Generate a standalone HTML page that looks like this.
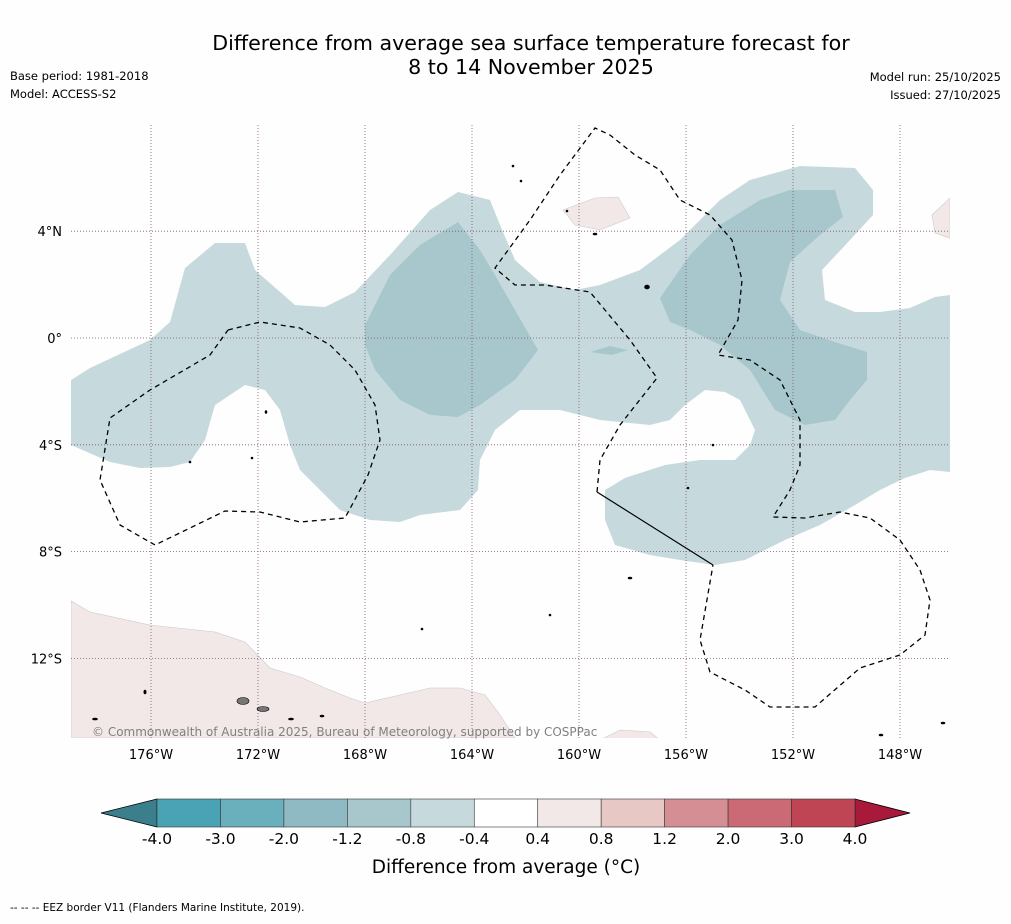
<!DOCTYPE html>
<html><head><meta charset="utf-8">
<style>
html,body{margin:0;padding:0;background:#fefefe;}
body{width:1011px;height:919px;overflow:hidden;font-family:"Liberation Sans","DejaVu Sans",sans-serif;}
svg text{font-family:"DejaVu Sans","Liberation Sans",sans-serif;}
</style></head>
<body>
<svg id="chart" width="1011" height="919" xmlns="http://www.w3.org/2000/svg">
<rect width="1011" height="919" fill="#fefefe"/>
<text x="531" y="50" font-size="20.6" text-anchor="middle" fill="#000">Difference from average sea surface temperature forecast for</text>
<text x="531" y="74" font-size="20.6" text-anchor="middle" fill="#000">8 to 14 November 2025</text>
<text x="10" y="80" font-size="11.5">Base period: 1981-2018</text>
<text x="10" y="98" font-size="11.5">Model: ACCESS-S2</text>
<text x="1001" y="81" font-size="11.5" text-anchor="end">Model run: 25/10/2025</text>
<text x="1001" y="99" font-size="11.5" text-anchor="end">Issued: 27/10/2025</text>
<defs><clipPath id="mapclip"><rect x="71" y="125" width="879" height="613"/></clipPath></defs>
<g id="map" clip-path="url(#mapclip)"></g>
<g id="axes"></g>
<g id="cbar"></g>
<text x="92" y="736" font-size="12" fill="#808080">© Commonwealth of Australia 2025, Bureau of Meteorology, supported by COSPPac</text>
<text x="10" y="911" font-size="10.5">--  --  -- EEZ border V11 (Flanders Marine Institute, 2019).</text>
</svg>
<script>
// axis ticks
const lonTicks = [-176,-172,-168,-164,-160,-156,-152,-148];
const lonLabels = ["176°W","172°W","168°W","164°W","160°W","156°W","152°W","148°W"];
const latTicks = [4,0,-4,-8,-12];
const latLabels = ["4°N","0°","4°S","8°S","12°S"];
// colour bar
const cbarLevels = [-4.0,-3.0,-2.0,-1.2,-0.8,-0.4,0.4,0.8,1.2,2.0,3.0,4.0];
const cbarLabels = ["-4.0","-3.0","-2.0","-1.2","-0.8","-0.4","0.4","0.8","1.2","2.0","3.0","4.0"];
const cbarColors = ["#4aa3b4","#6aafbc","#8fbac3","#a8c7cc","#c6dadd","#ffffff","#f3e8e8","#e8c8c4","#d68e95","#cb6a74","#bf4555"];
const cbarExtendLow = "#3a7f8b", cbarExtendHigh = "#a8193a";
// anomaly regions (pixel-traced outlines)
const regionLightBlue = [[71,380],[90,368],[150,340],[170,322],[185,268],[215,243],[245,243],[255,270],[295,305],[325,307],[355,292],[390,255],[430,210],[458,192],[490,200],[500,225],[515,260],[540,282],[575,290],[600,285],[640,270],[680,240],[720,200],[750,180],[800,166],[855,168],[873,190],[873,215],[850,240],[822,270],[825,300],[855,312],[880,312],[910,308],[935,297],[950,295],[950,472],[930,470],[905,478],[880,490],[855,505],[820,525],[785,540],[745,560],[715,565],[680,560],[650,555],[615,545],[605,520],[605,490],[625,478],[665,465],[700,460],[735,460],[750,445],[755,430],[740,400],[725,392],[705,390],[685,405],[670,420],[650,425],[600,420],[560,410],[520,410],[495,430],[480,460],[478,490],[460,510],[420,515],[400,522],[370,520],[340,510],[320,490],[300,470],[290,445],[280,410],[265,390],[245,385],[215,405],[205,440],[190,462],[170,467],[140,468],[110,462],[71,445]];
const regionMidBlue1 = [[365,325],[390,275],[420,245],[458,222],[480,250],[495,275],[515,310],[538,350],[515,380],[480,405],[458,417],[430,415],[400,400],[375,370],[365,345]];
const regionMidBlue2 = [[660,298],[690,255],[720,225],[760,200],[790,190],[835,190],[843,217],[820,235],[790,262],[780,300],[800,330],[835,342],[867,352],[867,380],[850,400],[835,420],[805,425],[775,410],[750,370],[720,345],[690,330],[670,322]];
const regionMidBlue3 = [[590,352],[610,346],[628,350],[612,355]];
const regionPink1 = [[71,601],[90,612],[150,625],[215,632],[245,642],[270,668],[300,677],[325,688],[350,698],[365,703],[400,695],[430,688],[460,688],[485,695],[500,715],[515,738],[71,738]];
const regionPink2 = [[563,210],[595,198],[618,197],[630,218],[600,230],[575,225]];
const regionPink3 = [[932,215],[950,198],[950,238],[935,233]];
const regionPink4 = [[600,740],[620,730],[650,732],[660,740]];
const eezLeft = [[228,330],[260,322],[300,328],[330,345],[355,370],[375,405],[380,440],[368,475],[345,518],[300,522],[260,512],[225,511],[155,545],[120,525],[100,480],[110,418],[150,390],[210,355],[228,330]];
const eezRight = [[597,492],[600,460],[620,425],[657,378],[630,340],[590,292],[545,285],[515,285],[495,268],[530,220],[560,175],[595,128],[610,135],[635,155],[660,170],[680,200],[710,215],[732,240],[742,280],[738,320],[718,355],[750,360],[780,380],[800,420],[800,465],[790,490],[773,517],[805,518],[840,512],[870,518],[900,540],[920,570],[930,600],[925,635],[900,655],[860,668],[815,707],[770,707],[745,690],[710,672],[700,640],[713,565]];
const eezSolid = [[597,492],[713,565]];

const NS="http://www.w3.org/2000/svg";
const X0=151, DX=26.75, Y0=338, DY=26.7;
function xLon(lon){return X0+(lon+176)*DX;}
function yLat(lat){return Y0-lat*DY;}
function el(tag,attrs,parent){const e=document.createElementNS(NS,tag);for(const k in attrs)e.setAttribute(k,attrs[k]);parent.appendChild(e);return e;}
function pts(a){return a.map(p=>p[0]+","+p[1]).join(" ");}
const map=document.getElementById('map'), axes=document.getElementById('axes'), cb=document.getElementById('cbar');

function poly(arr,fill,name,stroke){
  const p=el('polygon',{points:pts(arr),fill:fill,stroke:stroke||'none','stroke-width':0.6},map);
  
  
}
poly(regionLightBlue,cbarColors[4],'anomaly-region-light-blue');
poly(regionMidBlue1,cbarColors[3],'anomaly-region-mid-blue-west');
poly(regionMidBlue2,cbarColors[3],'anomaly-region-mid-blue-east');
poly(regionMidBlue3,cbarColors[3],'anomaly-region-mid-blue-small');
poly(regionPink1,cbarColors[6],'anomaly-region-pink-south','#c9c9c9');
poly(regionPink2,cbarColors[6],'anomaly-region-pink-north','#c9c9c9');
poly(regionPink3,cbarColors[6],'anomaly-region-pink-east','#c9c9c9');
poly(regionPink4,cbarColors[6],'anomaly-region-pink-bottom','#c9c9c9');

// gridlines
lonTicks.forEach((lon,i)=>{
  const l=el('line',{x1:xLon(lon),x2:xLon(lon),y1:125,y2:738,stroke:'#7a5570','stroke-width':0.8,'stroke-dasharray':'1,2'},map);
  
  
  const t=el('text',{x:xLon(lon),y:759,'font-size':13,'text-anchor':'middle'},axes);
  t.textContent=lonLabels[i];
  
  
});
latTicks.forEach((lat,i)=>{
  const l=el('line',{x1:71,x2:950,y1:yLat(lat),y2:yLat(lat),stroke:'#7a5570','stroke-width':0.8,'stroke-dasharray':'1,2'},map);
  
  
  const t=el('text',{x:62,y:yLat(lat)+5,'font-size':13,'text-anchor':'end'},axes);
  t.textContent=latLabels[i];
  
  
});

// EEZ
[eezLeft,eezRight].forEach(a=>{
  const p=el('polyline',{points:pts(a),fill:'none',stroke:'#000','stroke-width':1.3,'stroke-dasharray':'5,4'},map);
  
  
});
const sl=el('polyline',{points:pts(eezSolid),fill:'none',stroke:'#000','stroke-width':1.2},map);



// islands
const islands=[[243,701,6,3.5],[263,709,6,2.5],[145,692,1.2,2],[95,719,2.5,1],[291,719,2.5,1],[322,716,2,1],[595,234,2,1],[647,287,2.5,2],[630,578,2,1],[550,615,1,1],[422,629,1,1],[713,445,1,1],[688,488,1,1],[266,412,1,1.5],[252,458,1,1],[190,462,1,1],[881,735,2,1],[943,723,2,1],[513,166,1,1],[521,181,1,1],[567,211,1,1]];
islands.forEach((d,i)=>{
  const e=el('ellipse',{cx:d[0],cy:d[1],rx:d[2],ry:d[3],fill:i<2?'#777':'#000',stroke:'#000','stroke-width':0.6},map);
  
  
});

// colour bar
const CB0=157, CB1=855, CBY=799, CBH=28;
const segW=(CB1-CB0)/cbarColors.length;
function xCb(i){return CB0+i*segW;}
const lowT=el('polygon',{points:`${xCb(0)},${CBY} 101,${CBY+CBH/2} ${xCb(0)},${CBY+CBH}`,fill:cbarExtendLow,stroke:'#000','stroke-width':0.8},cb);


const hiT=el('polygon',{points:`${xCb(cbarColors.length)},${CBY} 910,${CBY+CBH/2} ${xCb(cbarColors.length)},${CBY+CBH}`,fill:cbarExtendHigh,stroke:'#000','stroke-width':0.8},cb);


cbarColors.forEach((c,i)=>{
  const r=el('rect',{x:xCb(i),y:CBY,width:segW,height:CBH,fill:c,stroke:'#333','stroke-width':0.6},cb);
  
  
});
cbarLevels.forEach((v,i)=>{
  const t=el('text',{x:xCb(i),y:844,'font-size':15.5,'text-anchor':'middle'},cb);
  t.textContent=cbarLabels[i];
  
  
});
const ct=el('text',{x:506,y:873,'font-size':18.5,'text-anchor':'middle'},cb);
ct.textContent='Difference from average (°C)';


</script>
</body></html>
